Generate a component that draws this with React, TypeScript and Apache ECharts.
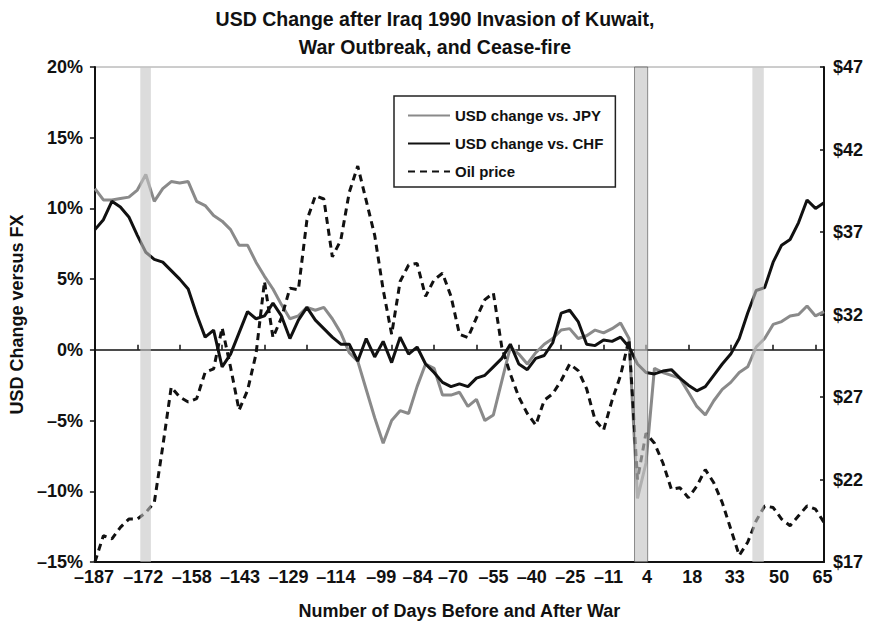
import React, { useEffect, useRef } from 'react';
import * as echarts from 'echarts';

// Trading-day index along the x axis (0 = 187 days before the war)
const tradingDay = [
  0, 2, 4, 6, 8, 10, 12, 14, 16, 18,
  20, 22, 24, 26, 28, 30, 32, 34, 36, 38,
  40, 42, 44, 46, 48, 50, 52, 54, 56, 58,
  60, 62, 64, 66, 68, 70, 72, 74, 76, 78,
  80, 82, 84, 86, 88, 90, 92, 94, 96, 98,
  100, 102, 104, 106, 108, 110, 112, 114, 116, 118,
  120, 122, 124, 126, 128, 130, 132, 134, 136, 138,
  140, 142, 144, 146, 148, 150, 152, 154, 156, 158,
  160, 162, 164, 166, 168, 170, 172,
];

// USD change vs. JPY (%)
const jpyChange = [
  11.4, 10.6, 10.6, 10.7, 10.8, 11.3, 12.4, 10.5, 11.4, 11.9,
  11.8, 11.9, 10.5, 10.2, 9.5, 9.1, 8.5, 7.4, 7.4, 6.2,
  5.2, 4.3, 3.2, 2.2, 2.4, 3.0, 2.8, 3.0, 2.2, 1.2,
  -0.2, -0.8, -2.8, -4.8, -6.6, -5.0, -4.3, -4.5, -2.6, -1.0,
  -1.3, -3.2, -3.2, -3.0, -4.0, -3.5, -5.0, -4.6, -2.2, 0.2,
  -0.3, -1.0, -0.2, 0.4, 0.8, 1.4, 1.5, 0.8, 1.0, 1.4,
  1.2, 1.5, 1.9, 0.8, -10.5, -8.0, -1.3, -1.6, -1.8, -2.0,
  -3.0, -4.0, -4.6, -3.6, -2.8, -2.3, -1.6, -1.2, 0.2, 0.8,
  1.8, 2.0, 2.4, 2.5, 3.1, 2.4, 2.7,
];

// USD change vs. CHF (%)
const chfChange = [
  8.5, 9.2, 10.5, 10.1, 9.4, 8.1, 6.9, 6.4, 6.2, 5.6,
  5.0, 4.3, 2.5, 0.9, 1.4, -1.2, -0.3, 1.2, 2.7, 2.2,
  2.4, 3.3, 2.4, 0.8, 2.1, 3.0, 2.1, 1.5, 0.9, 0.4,
  0.4, -0.8, 0.8, -0.5, 0.6, -0.9, 0.9, -0.3, 0.2, -1.0,
  -1.6, -2.3, -2.6, -2.4, -2.6, -2.0, -1.8, -1.2, -0.6, 0.4,
  -1.0, -1.4, -0.6, -0.4, 0.5, 2.6, 2.8, 2.0, 0.4, 0.3,
  0.7, 0.6, 0.9, 0.2, -1.0, -1.6, -1.7, -1.5, -1.4, -2.0,
  -2.5, -2.9, -2.6, -1.8, -1.0, -0.3, 0.8, 2.6, 4.2, 4.4,
  6.2, 7.4, 7.8, 9.0, 10.6, 10.0, 10.4,
];

// Oil price ($ per barrel, right axis)
const oilPrice = [
  17.0, 18.6, 18.4, 19.1, 19.6, 19.6, 20.0, 20.6, 24.0, 27.6,
  27.0, 26.7, 26.9, 28.5, 28.7, 31.2, 28.8, 26.2, 27.4, 29.6,
  34.0, 30.6, 31.8, 33.6, 33.5, 37.7, 39.2, 39.0, 35.5, 36.5,
  39.4, 41.0, 38.9, 36.8, 33.5, 30.8, 34.0, 35.0, 35.1, 33.1,
  34.1, 34.5, 33.1, 30.8, 30.6, 31.8, 32.9, 33.3, 30.0, 28.4,
  27.0, 26.0, 25.3, 26.8, 27.2, 28.0, 29.0, 28.6, 27.5, 25.6,
  25.0, 26.8, 28.3, 30.5, 22.0, 24.8, 24.2, 23.0, 21.4, 21.5,
  20.9, 21.6, 22.6, 21.8, 20.6, 19.0, 17.4, 18.2, 19.5, 20.4,
  20.3, 19.6, 19.2, 19.8, 20.4, 20.2, 19.4,
];

// Labels shown at every 10th trading day (days before / after war)
const xTickLabels = [
  '–187', '–172', '–158', '–143', '–129', '–114', '–99', '–84', '–70',
  '–55', '–40', '–25', '–11', '4', '18', '33', '50', '65',
];

// Shaded event bands: invasion, war outbreak, cease-fire (trading-day index)
const eventBands = [
  [10.7, 13.2],
  [127.3, 130.4],
  [155.1, 157.8],
];

const FONT = '"Liberation Sans", Arial, Helvetica, sans-serif';

function buildOption() {
  const pairs = (vals: number[]) => tradingDay.map((d, i) => [d, vals[i]]);

  // horizontal nudge (px) of each x tick label, as laid out in the original
  const labelNudge = [-1, 6, 12, 18, 24, 29, 32, 26, 19, 17, 13, 9, 5, 1, 4, 4, 6, 7];
  const labelFont = { fontFamily: FONT, fontSize: 18, fontWeight: 'bold' as const, color: '#111' };
  const rich: Record<string, any> = {};
  labelNudge.forEach((n, k) => {
    rich['n' + k] = {
      ...labelFont,
      padding: n >= 0 ? [0, 0, 0, 2 * n] : [0, -2 * n, 0, 0],
    };
  });

  const xLabel = (v: number) => {
    const k = Math.round(v / 10);
    if (Math.abs(v - k * 10) > 1e-6) return '';
    const t = xTickLabels[k];
    return t == null ? '' : `{n${k}|${t}}`;
  };
  const pct = (v: number) => (v < 0 ? '–' + Math.abs(v) : String(v)) + '%';

  return {
    animation: false,
    backgroundColor: '#fff',
    textStyle: { fontFamily: FONT },
    title: {
      text: 'USD Change after Iraq 1990 Invasion of Kuwait,\nWar Outbreak, and Cease-fire',
      left: 'center',
      top: 0,
      textStyle: {
        fontFamily: FONT,
        fontSize: 19.5,
        fontWeight: 'bold',
        color: '#111',
        lineHeight: 28,
      },
    },
    legend: {
      orient: 'vertical',
      left: 394,
      top: 96,
      padding: [12, 12, 8, 13],
      itemGap: 13,
      itemWidth: 42,
      itemHeight: 14,
      borderColor: '#222',
      borderWidth: 1.5,
      backgroundColor: '#fff',
      itemStyle: { color: 'rgba(0,0,0,0)', borderWidth: 0, opacity: 0 },
      textStyle: { fontFamily: FONT, fontSize: 15, fontWeight: 'bold', color: '#111' },
      data: ['USD change vs. JPY', 'USD change vs. CHF', 'Oil price'],
    },
    grid: {
      left: 93,
      right: 46,
      top: 67,
      bottom: 68,
      show: true,
      borderColor: '#9a9a9a',
      borderWidth: 1,
    },
    xAxis: [
      {
        type: 'value',
        min: 0,
        max: 172,
        interval: 10,
        position: 'bottom',
        name: 'Number of Days Before and After War',
        nameLocation: 'middle',
        nameGap: 40,
        nameTextStyle: { fontFamily: FONT, fontSize: 18, fontWeight: 'bold', color: '#111' },
        axisLine: { onZero: false, lineStyle: { color: '#111', width: 2 } },
        axisTick: { show: false },
        splitLine: { show: false },
        axisLabel: {
          formatter: xLabel,
          margin: 6,
          ...labelFont,
          rich,
          showMinLabel: true,
          showMaxLabel: true,
          hideOverlap: false,
        },
      },
      {
        type: 'value',
        min: 0,
        max: 172,
        interval: 10,
        position: 'top',
        axisLine: { onZero: true, onZeroAxisIndex: 0, lineStyle: { color: '#111', width: 1.5 } },
        axisTick: { show: true, length: 5, lineStyle: { color: '#111', width: 1.5 } },
        axisLabel: { show: false },
        splitLine: { show: false },
      },
    ],
    yAxis: [
      {
        type: 'value',
        min: -15,
        max: 20,
        interval: 5,
        position: 'left',
        name: 'USD Change versus FX',
        nameLocation: 'middle',
        nameGap: 62,
        nameRotate: 90,
        nameTextStyle: { fontFamily: FONT, fontSize: 18, fontWeight: 'bold', color: '#111' },
        axisLine: { show: true, onZero: false, lineStyle: { color: '#111', width: 2 } },
        axisTick: { show: true, length: 5, lineStyle: { color: '#111', width: 1.5 } },
        splitLine: { show: false },
        axisLabel: {
          formatter: pct,
          margin: 12,
          ...labelFont,
        },
      },
      {
        type: 'value',
        min: 17,
        max: 47,
        interval: 5,
        position: 'right',
        axisLine: { show: true, onZero: false, lineStyle: { color: '#111', width: 2 } },
        axisTick: { show: true, inside: true, length: 4, lineStyle: { color: '#111', width: 1.5 } },
        splitLine: { show: false },
        axisLabel: {
          formatter: (v: number) => '$' + v,
          margin: 9,
          ...labelFont,
        },
      },
    ],
    series: [
      {
        name: 'USD change vs. JPY',
        type: 'line',
        xAxisIndex: 0,
        yAxisIndex: 0,
        data: pairs(jpyChange),
        symbol: 'none',
        showSymbol: false,
        lineStyle: { color: '#8a8a8a', width: 3 },
        itemStyle: { color: '#8a8a8a' },
        z: 3,
        markArea: {
          silent: true,
          z: 10,
          itemStyle: { color: '#c4c4c4', opacity: 0.6 },
          data: eventBands.map(([a, b], k) => [
            k === 1
              ? { xAxis: a, itemStyle: { color: '#c4c4c4', opacity: 0.65, borderColor: '#555', borderWidth: 1 } }
              : { xAxis: a },
            { xAxis: b },
          ]),
        },
      },
      {
        name: 'USD change vs. CHF',
        type: 'line',
        xAxisIndex: 0,
        yAxisIndex: 0,
        data: pairs(chfChange),
        symbol: 'none',
        showSymbol: false,
        lineStyle: { color: '#111', width: 3 },
        itemStyle: { color: '#111' },
        z: 4,
      },
      {
        name: 'Oil price',
        type: 'line',
        xAxisIndex: 0,
        yAxisIndex: 1,
        data: pairs(oilPrice),
        symbol: 'none',
        showSymbol: false,
        lineStyle: { color: '#111', width: 3, type: [7, 5] },
        itemStyle: { color: '#111' },
        z: 4,
      },
    ],
  };
}

export default function App() {
  const ref = useRef<HTMLDivElement>(null);
  useEffect(() => {
    if (!ref.current) return;
    const chart = echarts.init(ref.current, null, { renderer: 'svg' });
    chart.setOption(buildOption() as any);
    return () => chart.dispose();
  }, []);
  return (
    <div
      ref={ref}
      style={{ position: 'absolute', left: 0, top: 0, width: 870, height: 630, background: '#fff' }}
    />
  );
}
